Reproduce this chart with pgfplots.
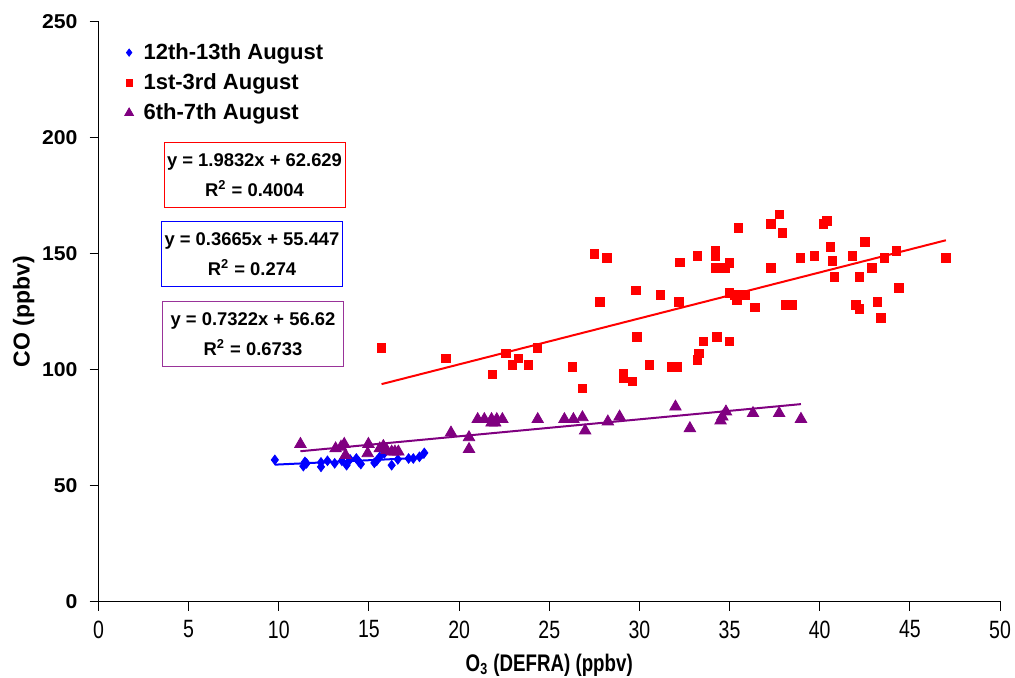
\documentclass[border=0pt]{standalone}
\usepackage{pgfplots}
\pgfplotsset{compat=1.18}
\usepackage{fontspec}
\setmainfont{Liberation Sans}
\newfontfamily\narrowfont[FakeStretch=0.78]{Liberation Sans}
\newfontfamily\wideboldfont[FakeStretch=1.06]{Liberation Sans Bold}
\definecolor{cblue}{RGB}{0,0,255}
\definecolor{cred}{RGB}{255,0,0}
\definecolor{cpurple}{RGB}{128,0,128}
\begin{document}
\begin{tikzpicture}
\useasboundingbox (0,0) rectangle (507.5pt,339pt);
\begin{axis}[
  at={(49.25pt,38.25pt)}, anchor=south west,
  scale only axis, width=450.75pt, height=289.75pt,
  xmin=0, xmax=50, ymin=0, ymax=250,
  axis x line=bottom, axis y line=left,
  axis line style={-, black, line width=0.6pt},
  xtick={0,5,...,50}, ytick={0,50,...,250},
  tick align=outside, major tick length=4.5pt,
  tick style={black, line width=0.5pt},
  /pgf/number format/assume math mode=true,
  yticklabel style={font=\wideboldfont\fontsize{10}{12}\selectfont, xshift=-2.5pt},
  xticklabel style={font=\narrowfont\fontsize{12.5}{14}\selectfont, yshift=-1.5pt},
  xlabel={O\textsubscript{3} (DEFRA) (ppbv)},
  ylabel={CO (ppbv)},
  xlabel style={font=\narrowfont\bfseries\fontsize{12}{14}\selectfont, yshift=-1pt},
  ylabel style={font=\bfseries\fontsize{11.5}{13}\selectfont, yshift=-3pt},
  legend style={at={(0.022,0.978)}, anchor=north west, draw=none, fill=none,
    font=\bfseries\fontsize{11}{13}\selectfont, row sep=1.6pt,
    nodes={inner xsep=2pt}},
  legend cell align=left,
  legend image code/.code={\draw[#1, every mark/.append style={scale=0.75}] plot coordinates {(0pt,0pt)};
     \path (-2pt,0pt) (5pt,0pt);},
]
\addplot[only marks, mark=diamond*, mark size=2.4pt, color=cblue, mark options={fill=cblue}] coordinates {
(9.78,61.1) (11.36,58.4) (11.45,60.2) (11.54,59.6) (12.34,60.0) (12.34,58.1)
(12.7,60.7) (13.1,59.6) (13.5,60.7) (13.76,58.8) (13.95,61.3) (14.3,61.7)
(14.45,60.2) (14.55,59.3) (15.3,59.8) (15.43,60.7) (15.6,62.4) (15.85,63.9)
(16.26,58.8) (16.6,61.3) (17.2,61.7) (17.46,61.7) (17.8,62.4) (18.07,64.1)
};
\addlegendentry{12th-13th August}
\addplot[only marks, mark=square*, mark size=2.1pt, color=cred, mark options={fill=cred}] coordinates {
(15.7,109.4) (19.26,105.0) (21.85,98.0) (22.6,107.1) (23.3,105.0) (22.96,102.0)
(23.85,102.0) (24.35,109.4) (26.3,101.2) (26.84,92.0) (27.5,150.0) (28.2,148.2)
(27.8,129.2) (29.8,134.1) (29.86,114.2) (29.1,98.2) (29.1,96.2) (29.6,95.0)
(30.55,102.0) (31.15,132.2) (32.2,129.2) (32.25,146.2) (31.8,101.2) (32.1,101.2)
(33.2,149.1) (34.2,151.2) (34.2,149.1) (34.2,143.9) (34.75,143.9) (35.0,146.0)
(35.5,161.2) (34.98,133.1) (35.3,132.2) (35.4,130.1) (35.86,132.2) (36.4,127.0)
(37.3,162.9) (37.75,167.0) (37.94,159.0) (37.3,143.9) (38.1,127.9) (38.5,127.9)
(38.94,148.2) (39.7,149.1) (40.2,162.9) (40.4,164.2) (40.6,153.0) (40.7,146.9)
(40.8,140.0) (41.8,149.1) (42.2,140.0) (42.5,155.1) (42.9,143.9) (42.0,127.9)
(42.2,126.2) (43.2,129.2) (43.4,122.3) (43.6,148.2) (44.25,151.2) (44.4,135.3)
(47.0,148.2) (33.55,112.2) (34.3,114.2) (35.0,112.2) (33.3,107.1) (33.2,104.2)
};
\addlegendentry{1st-3rd August}
\addplot[only marks, mark=triangle*, mark size=3.3pt, color=cpurple, mark options={fill=cpurple}] coordinates {
(11.2,67.9) (13.15,66.0) (13.45,66.7) (13.63,67.9) (13.7,63.1) (14.97,67.9)
(14.93,63.9) (15.6,66.0) (15.8,67.0) (15.98,65.3) (16.26,64.6) (16.44,64.6)
(16.63,64.6) (19.55,72.8) (20.55,70.8) (20.55,65.7) (21.03,78.6) (21.4,78.6)
(21.8,78.6) (22.09,78.6) (22.4,78.6) (21.8,77.1) (22.0,77.1) (24.36,78.6)
(25.84,78.6) (26.34,78.6) (26.84,79.4) (26.99,73.7) (28.25,77.6) (28.9,79.7)
(32.0,84.0) (32.8,74.7) (34.5,78.0) (34.6,79.7) (34.8,81.9) (36.3,81.2)
(37.75,81.2) (38.96,78.7)
};
\addlegendentry{6th-7th August}
% trend lines
\addplot[cred, line width=1pt, forget plot] coordinates {(15.7,93.77) (47.0,155.84)};
\addplot[cblue, line width=1pt, forget plot] coordinates {(9.78,59.03) (18.07,62.07)};
\addplot[cpurple, line width=1pt, forget plot] coordinates {(11.2,64.82) (38.96,85.15)};
\end{axis}
% equation boxes (pixel -> pt: x*0.5, (678-y)*0.5)
\tikzset{eqbox/.style={draw=#1, line width=0.5pt, minimum width=90.5pt, minimum height=32.5pt,
  inner sep=0pt, align=center, font=\bfseries\fontsize{9.2}{15}\selectfont}}
\node[eqbox=cred] at (127.25pt,251.25pt) {y = 1.9832x + 62.629\\R\textsuperscript{2} = 0.4004};
\node[eqbox=cblue] at (126pt,211.75pt) {y = 0.3665x + 55.447\\R\textsuperscript{2} = 0.274};
\node[eqbox=cpurple!80!white] at (126.5pt,171.75pt) {y = 0.7322x + 56.62\\R\textsuperscript{2} = 0.6733};
\end{tikzpicture}
\end{document}
